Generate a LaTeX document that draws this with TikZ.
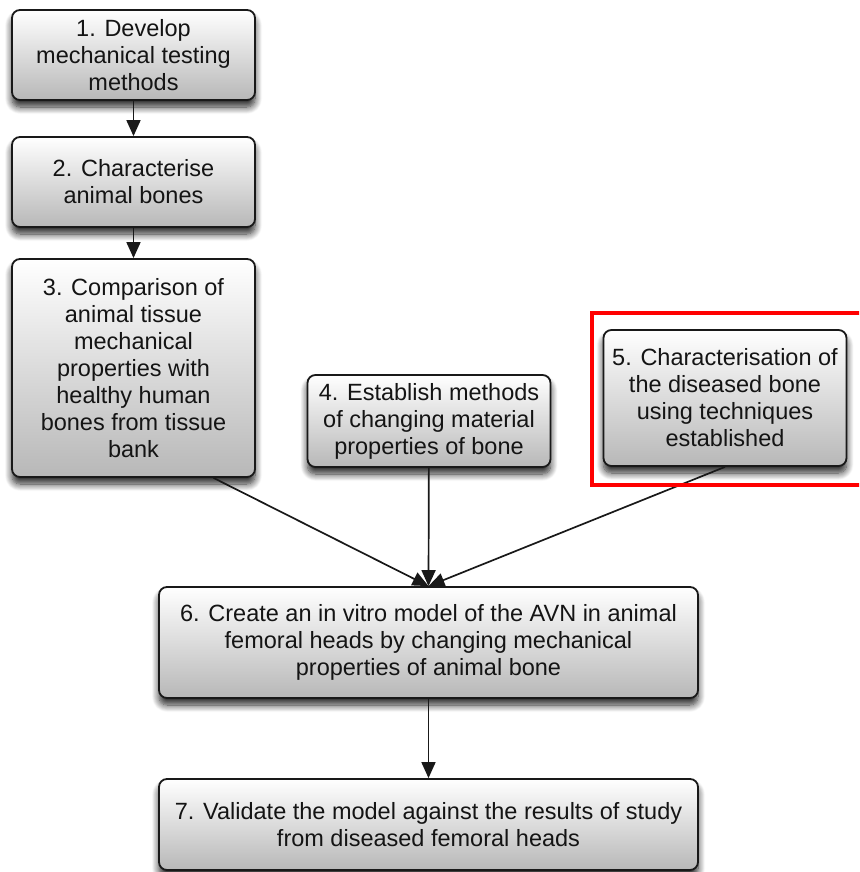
\documentclass[tikz,border=0pt]{standalone}
\usepackage{fontspec}
\setmainfont{Liberation Sans}
\usetikzlibrary{arrows.meta,shadows.blur}
\begin{document}
\begin{tikzpicture}[x=1pt,y=-1pt,
  stepbox/.style={draw=black!90, line width=1.8pt, rounded corners=8pt,
    top color=white, bottom color=black!28, align=center, text=black!92,
    font=\fontsize{23.5}{27}\selectfont, inner sep=0pt,
    blur shadow={shadow xshift=0pt, shadow yshift=-7pt,
      shadow blur steps=10, shadow blur radius=7pt, shadow opacity=85}},
  narrowbox/.style={stepbox, minimum width=243pt},
  widebox/.style={stepbox, minimum width=539pt},
  link/.style={line width=1.7pt, black!90, -{Triangle[length=16pt,width=14pt]}}
]
\useasboundingbox (0,0) rectangle (859,872);

% left column
\node[narrowbox, minimum height=90pt] (b1) at (133.5,55)
  {1. Develop\\mechanical testing\\methods};
\node[narrowbox, minimum height=90pt] (b2) at (133.5,182)
  {2. Characterise\\animal bones};
\node[narrowbox, minimum height=218pt] (b3) at (133.5,368)
  {3. Comparison of\\animal tissue\\mechanical\\properties with\\healthy human\\bones from tissue\\bank};

% middle and right inputs
\node[narrowbox, minimum height=92pt] (b4) at (429,421)
  {4. Establish methods\\of changing material\\properties of bone};
\node[narrowbox, minimum height=136pt] (b5) at (725,398)
  {5. Characterisation of\\the diseased bone\\using techniques\\established};

% model and validation
\node[widebox, minimum height=111pt] (b6) at (428.5,642.5)
  {6. Create an in vitro model of the AVN in animal\\femoral heads by changing mechanical\\properties of animal bone};
\node[widebox, minimum height=91pt] (b7) at (428.5,824.5)
  {7. Validate the model against the results of study\\from diseased femoral heads};

% connectors
\draw[link] (b1) -- (b2);
\draw[link] (b2) -- (b3);
\draw[link] ([xshift=80pt]b3.south) -- (b6.north);
\draw[link] (b4) -- (b6.north);
\draw[link] (b5.south) -- (b6.north);
\draw[link] (b6) -- (b7);

% highlight frame around step 5
\begin{scope}
  \clip (0,0) rectangle (859,872);
  \draw[red, line width=4pt] (592,313) rectangle (872,485);
\end{scope}
\end{tikzpicture}
\end{document}
